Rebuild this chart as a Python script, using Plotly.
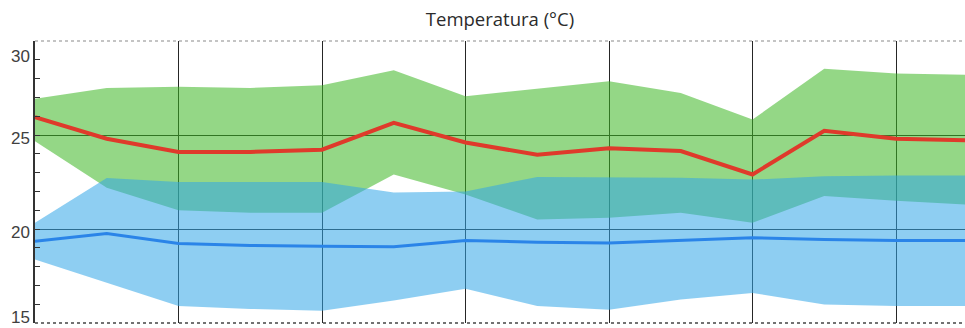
import plotly.graph_objects as go

# ---- data ----
x_idx = list(range(14))

green_upper = [26.93, 27.50, 27.56, 27.50, 27.65, 28.45, 27.06, 27.46, 27.86, 27.24, 25.82, 28.52, 28.27, 28.20]
green_lower = [24.67, 22.20, 21.00, 20.86, 20.86, 22.90, 21.84, 20.50, 20.60, 20.86, 20.33, 21.75, 21.50, 21.30]
red_mean    = [25.95, 24.80, 24.10, 24.10, 24.22, 25.65, 24.60, 23.95, 24.30, 24.15, 22.90, 25.22, 24.80, 24.72]

blue_upper  = [20.33, 22.71, 22.50, 22.50, 22.50, 21.94, 22.00, 22.77, 22.75, 22.72, 22.63, 22.80, 22.84, 22.84]
blue_lower  = [18.38, 17.14, 15.90, 15.75, 15.65, 16.20, 16.82, 15.90, 15.70, 16.25, 16.60, 15.98, 15.90, 15.90]
blue_mean   = [19.35, 19.76, 19.23, 19.12, 19.08, 19.05, 19.39, 19.30, 19.26, 19.40, 19.53, 19.44, 19.39, 19.39]

y_tick_vals = [15, 20, 25, 30]
y_tick_text = ["15", "20", "25", "30"]
title_text = "Temperatura (°C)"

# ---- style ----
GREEN_FILL = "rgba(60,182,35,0.55)"
BLUE_FILL = "rgba(50,166,232,0.55)"
RED_LINE = "#df3a2b"
BLUE_LINE = "#2a84e8"
GRID = "#262626"
label_yshift = [5.5, -3.5, -3.5, -15.5]
FIG_W, FIG_H = 965, 328

fig = go.Figure()

# green band
fig.add_trace(go.Scatter(x=x_idx, y=green_upper, mode="lines", line=dict(width=0),
                         hoverinfo="skip", showlegend=False))
fig.add_trace(go.Scatter(x=x_idx, y=green_lower, mode="lines", line=dict(width=0),
                         fill="tonexty", fillcolor=GREEN_FILL, showlegend=False))
# blue band
fig.add_trace(go.Scatter(x=x_idx, y=blue_upper, mode="lines", line=dict(width=0),
                         hoverinfo="skip", showlegend=False))
fig.add_trace(go.Scatter(x=x_idx, y=blue_lower, mode="lines", line=dict(width=0),
                         fill="tonexty", fillcolor=BLUE_FILL, showlegend=False))
# mean lines
fig.add_trace(go.Scatter(x=x_idx, y=red_mean, mode="lines",
                         line=dict(color=RED_LINE, width=4), showlegend=False))
fig.add_trace(go.Scatter(x=x_idx, y=blue_mean, mode="lines",
                         line=dict(color=BLUE_LINE, width=3), showlegend=False))

fig.update_layout(
    width=FIG_W, height=FIG_H,
    margin=dict(l=35, r=0, t=41, b=5),
    paper_bgcolor="white", plot_bgcolor="white",
    title=dict(text=title_text, x=0.5, xref="paper", y=1 - 20 / FIG_H, yref="container",
               xanchor="center", yanchor="middle",
               font=dict(family="Open Sans", size=18.5, color="#2b2b2b")),
    showlegend=False,
)

fig.update_xaxes(range=[0, 930 / 71.75], dtick=2, tick0=0,
                 showgrid=True, gridcolor=GRID, gridwidth=1.2,
                 showticklabels=False, ticks="", zeroline=False, showline=False)

fig.update_yaxes(range=[15, 30], tickvals=[20, 25],
                 showgrid=True, gridcolor=GRID, gridwidth=1.2,
                 showticklabels=False, ticks="inside", ticklen=5, tickcolor="#333",
                 minor=dict(dtick=1, tick0=15, ticks="inside", ticklen=5, tickcolor="#333", showgrid=False),
                 zeroline=False, showline=True, linecolor="#333", linewidth=1.5)

# dotted top border and bottom axis
fig.add_shape(type="line", xref="paper", yref="paper", x0=0, x1=1, y0=1, y1=1,
              line=dict(color="#8a8a8a", width=1.2, dash="dot"))
fig.add_shape(type="line", xref="paper", yref="paper", x0=0, x1=1, y0=0, y1=0,
              line=dict(color="#444", width=1.5, dash="dot"))

for v, t, s in zip(y_tick_vals, y_tick_text, label_yshift):
    fig.add_annotation(x=0, xref="paper", xanchor="right", xshift=-3,
                       y=v, yref="y", yanchor="middle", yshift=s,
                       text=t, showarrow=False,
                       font=dict(family="Liberation Sans", size=17, color="#404040"))

# remove the default page margin so the figure fills the window exactly
fig.write_html("out.html",
               config={"displayModeBar": False},
               post_script="document.body.style.margin='0';document.body.style.overflow='hidden';")
